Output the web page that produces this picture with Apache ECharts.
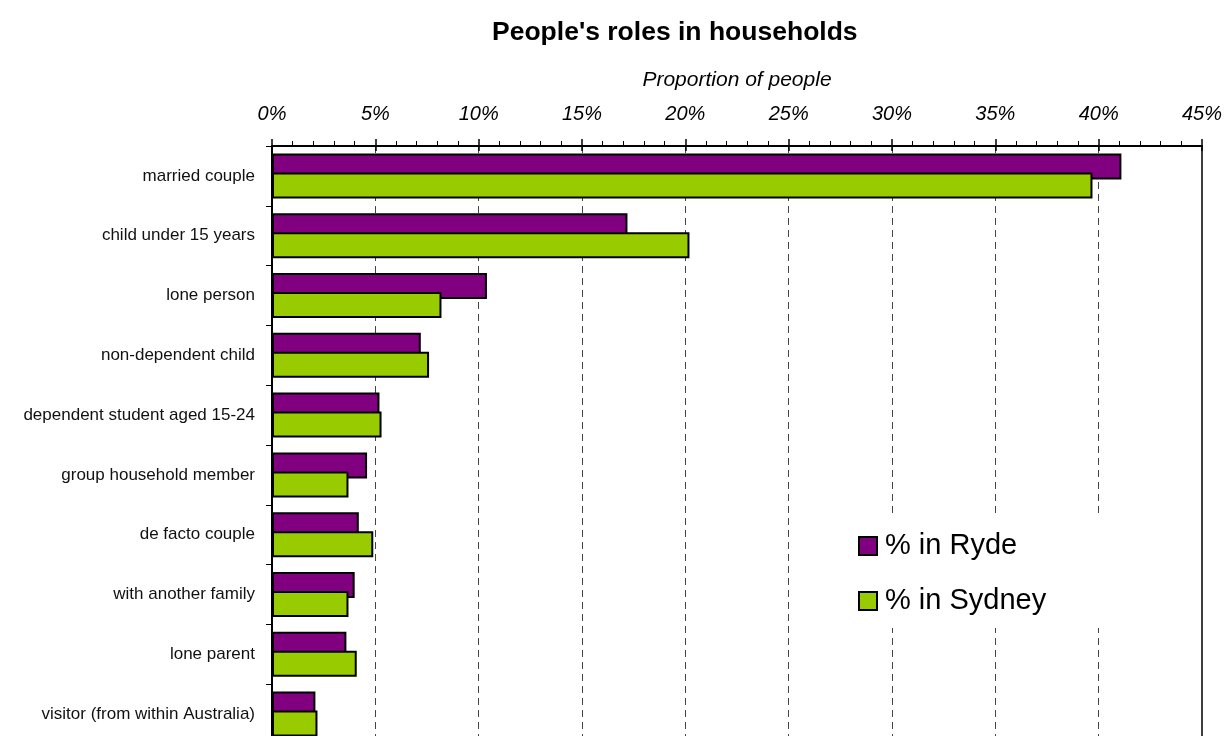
<!DOCTYPE html>
<html>
<head>
<meta charset="utf-8">
<script src="https://cdn.jsdelivr.net/npm/echarts@6/dist/echarts.min.js"></script>
<style>
html,body{margin:0;padding:0;background:#fff;overflow:hidden;}
#chart{width:1224px;height:760px;}
</style>
</head>
<body>
<div id="chart"></div>
<script>
const categories = [
  "married couple",
  "child under 15 years",
  "lone person",
  "non-dependent child",
  "dependent student aged 15-24",
  "group household member",
  "de facto couple",
  "with another family",
  "lone parent",
  "visitor (from within Australia)"
];
const rydeValues = [41.1, 17.2, 10.4, 7.2, 5.2, 4.6, 4.2, 4.0, 3.6, 2.1];
const sydneyValues = [39.7, 20.2, 8.2, 7.6, 5.3, 3.7, 4.9, 3.7, 4.1, 2.2];
const seriesNames = ["% in Ryde", "% in Sydney"];
const xTicks = [0, 5, 10, 15, 20, 25, 30, 35, 40, 45];

const FONT = '"Liberation Sans", Arial, sans-serif';

const gridRect = {left: 272, right: 22, top: 146, bottom: 16, outerBoundsMode: 'none', containLabel: false};

const chart = echarts.init(document.getElementById('chart'), null, {renderer: 'canvas'});
chart.setOption({
  backgroundColor: '#fff',
  animation: false,
  title: {
    text: "People's roles in households",
    left: 492, top: 19, padding: 0,
    textStyle: {fontFamily: FONT, fontSize: 26.5, fontWeight: 'bold', color: '#000'}
  },
  legend: {
    orient: 'vertical',
    left: 846, top: 517,
    padding: [12, 58, 10, 12],
    backgroundColor: '#fff',
    itemWidth: 18, itemHeight: 18,
    itemGap: 21,
    icon: 'rect',
    itemStyle: {borderColor: '#000', borderWidth: 2},
    textStyle: {fontFamily: FONT, fontSize: 29, color: '#000', lineHeight: 34, padding: [0,0,0,3]},
    data: seriesNames
  },
  grid: [
    Object.assign({show: true, borderColor: '#000', borderWidth: 1.5, backgroundColor: 'transparent'}, gridRect),
    Object.assign({show: false}, gridRect)
  ],
  xAxis: [{
    type: 'value', gridIndex: 0, position: 'top',
    min: xTicks[0], max: xTicks[xTicks.length - 1], interval: 5,
    name: 'Proportion of people', nameLocation: 'middle', nameGap: 55,
    nameTextStyle: {fontFamily: FONT, fontSize: 21, fontStyle: 'italic', color: '#000'},
    axisLine: {show: true, lineStyle: {color: '#000', width: 2}},
    axisTick: {show: true, length: 7, lineStyle: {color: '#000', width: 1.5}},
    minorTick: {show: true, splitNumber: 5, length: 5, lineStyle: {color: '#000', width: 1}},
    axisLabel: {fontFamily: FONT, fontSize: 20, fontStyle: 'italic', color: '#000', margin: 22,
      formatter: v => v + '%'},
    splitLine: {show: true, showMinLine: false, showMaxLine: false,
      lineStyle: {color: '#444', width: 1, type: [7, 5]}}
  }, {
    type: 'value', gridIndex: 1, position: 'top',
    min: xTicks[0], max: xTicks[xTicks.length - 1], interval: 5,
    axisLine: {show: false},
    axisTick: {show: true, inside: true, length: 5, lineStyle: {color: '#000', width: 1.5}},
    axisLabel: {show: false},
    splitLine: {show: false}
  }],
  yAxis: [{
    type: 'category', gridIndex: 0, inverse: true,
    data: categories,
    axisLine: {show: true, lineStyle: {color: '#000', width: 2}},
    axisTick: {show: true, length: 6, lineStyle: {color: '#000', width: 1}},
    axisLabel: {fontFamily: FONT, fontSize: 17, color: '#111', margin: 17},
    splitLine: {show: false}
  }, {
    type: 'category', gridIndex: 1, inverse: true, data: categories,
    axisLine: {show: false}, axisTick: {show: false}, axisLabel: {show: false}, splitLine: {show: false}
  }],
  series: [{
    name: seriesNames[0], type: 'bar', xAxisIndex: 0, yAxisIndex: 0,
    data: rydeValues, barWidth: 26, barGap: '-27%',
    itemStyle: {color: '#800080', borderColor: '#000', borderWidth: 2}
  }, {
    name: seriesNames[1], type: 'bar', xAxisIndex: 0, yAxisIndex: 0,
    data: sydneyValues, barWidth: 26, barGap: '-27%',
    itemStyle: {color: '#99cc00', borderColor: '#000', borderWidth: 2}
  }]
});
</script>
</body>
</html>
